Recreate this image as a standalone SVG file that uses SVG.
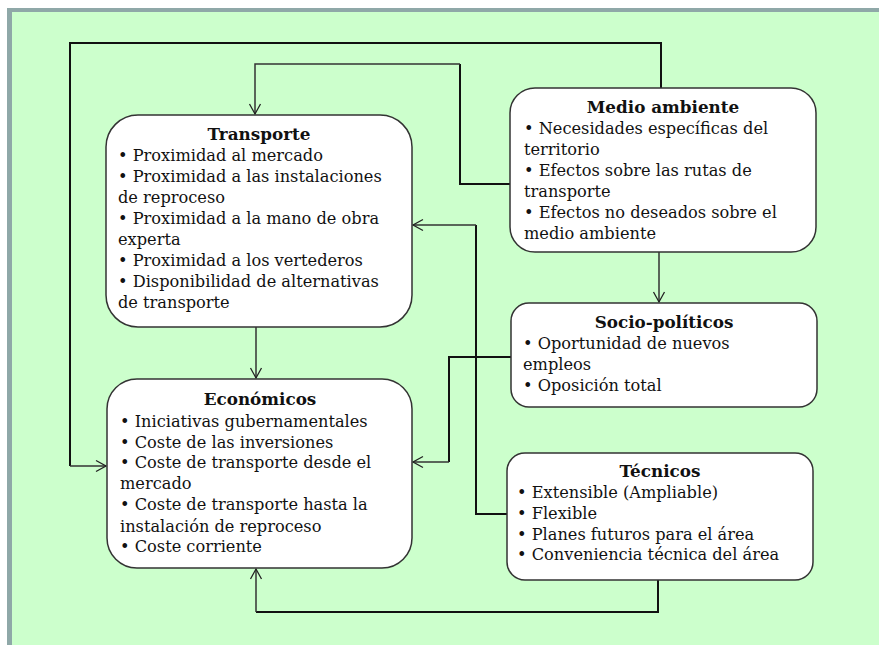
<svg xmlns="http://www.w3.org/2000/svg" width="879" height="645" viewBox="0 0 879 645">
<defs>
<marker id="arr" markerWidth="14" markerHeight="14" refX="11" refY="7" orient="auto" markerUnits="userSpaceOnUse">
<path d="M1,1.5 L11,7 L1,12.5" fill="none" stroke="#222" stroke-width="1.3"/>
</marker>
<style>
.bg{fill:#CCFFCC}
.band{fill:#8FA8A8}
.box{fill:#fff;stroke:#333;stroke-width:1.5}
.t{font-family:"DejaVu Serif","Liberation Serif",serif;font-size:16.2px;fill:#111}
.h{font-family:"DejaVu Serif","Liberation Serif",serif;font-size:16.8px;font-weight:bold;fill:#111;text-anchor:middle}
.c{fill:none;stroke:#111;stroke-width:2}
.cn{fill:none;stroke:#333;stroke-width:1.5}
</style>
</defs>
<rect x="0" y="0" width="879" height="645" fill="#fff"/>
<rect class="bg" x="11" y="11" width="868" height="634"/>
<rect class="band" x="8" y="8" width="871" height="4"/>
<rect class="band" x="7" y="8" width="5" height="637"/>

<g id="connectors">
<polyline class="c" points="661,88 661,43 70,43 70,466" />
<line class="cn" x1="70" y1="466" x2="106" y2="466" marker-end="url(#arr)"/>
<polyline class="c" points="510,184 460,184 460,64"/>
<polyline class="cn" points="460,64 255,64 255,114" marker-end="url(#arr)"/>
<line class="cn" x1="256" y1="327" x2="256" y2="378" marker-end="url(#arr)"/>
<line class="cn" x1="659" y1="252" x2="659" y2="302" marker-end="url(#arr)"/>
<polyline class="c" points="507,514 476,514 476,225"/>
<polyline class="cn" points="476,225 413,225" marker-end="url(#arr)"/>
<polyline class="c" points="511,357 449,357 449,462"/>
<polyline class="cn" points="449,462 413,462" marker-end="url(#arr)"/>
<polyline class="c" points="658,580 658,612 256,612"/>
<polyline class="cn" points="256,612 256,569" marker-end="url(#arr)"/>
</g>

<g id="transporte">
<rect class="box" x="106" y="115" width="306" height="212" rx="32" ry="32"/>
<text class="h" x="259" y="140">Transporte</text>
<text class="t" x="118" y="161">• Proximidad al mercado</text>
<text class="t" x="118" y="182">• Proximidad a las instalaciones</text>
<text class="t" x="118" y="203">de reproceso</text>
<text class="t" x="118" y="224">• Proximidad a la mano de obra</text>
<text class="t" x="118" y="245">experta</text>
<text class="t" x="118" y="266">• Proximidad a los vertederos</text>
<text class="t" x="118" y="287">• Disponibilidad de alternativas</text>
<text class="t" x="118" y="308">de transporte</text>
</g>

<g id="economicos">
<rect class="box" x="107" y="379" width="305" height="189" rx="30" ry="30"/>
<text class="h" x="260" y="405">Económicos</text>
<text class="t" x="120" y="427">• Iniciativas gubernamentales</text>
<text class="t" x="120" y="448">• Coste de las inversiones</text>
<text class="t" x="120" y="468">• Coste de transporte desde el</text>
<text class="t" x="120" y="489">mercado</text>
<text class="t" x="120" y="510">• Coste de transporte hasta la</text>
<text class="t" x="120" y="532">instalación de reproceso</text>
<text class="t" x="120" y="552">• Coste corriente</text>
</g>

<g id="medio">
<rect class="box" x="510" y="88" width="306" height="164" rx="25" ry="25"/>
<text class="h" x="663" y="113">Medio ambiente</text>
<text class="t" x="524" y="134">• Necesidades específicas del</text>
<text class="t" x="524" y="155">territorio</text>
<text class="t" x="524" y="176">• Efectos sobre las rutas de</text>
<text class="t" x="524" y="197">transporte</text>
<text class="t" x="524" y="218">• Efectos no deseados sobre el</text>
<text class="t" x="524" y="239">medio ambiente</text>
</g>

<g id="socio">
<rect class="box" x="511" y="303" width="306" height="104" rx="18" ry="18"/>
<text class="h" x="664" y="328">Socio-políticos</text>
<text class="t" x="523" y="349">• Oportunidad de nuevos</text>
<text class="t" x="523" y="370">empleos</text>
<text class="t" x="523" y="391">• Oposición total</text>
</g>

<g id="tecnicos">
<rect class="box" x="507" y="453" width="306" height="127" rx="18" ry="18"/>
<text class="h" x="660" y="477">Técnicos</text>
<text class="t" x="517" y="498">• Extensible (Ampliable)</text>
<text class="t" x="517" y="519">• Flexible</text>
<text class="t" x="517" y="540">• Planes futuros para el área</text>
<text class="t" x="517" y="560">• Conveniencia técnica del área</text>
</g>
</svg>
